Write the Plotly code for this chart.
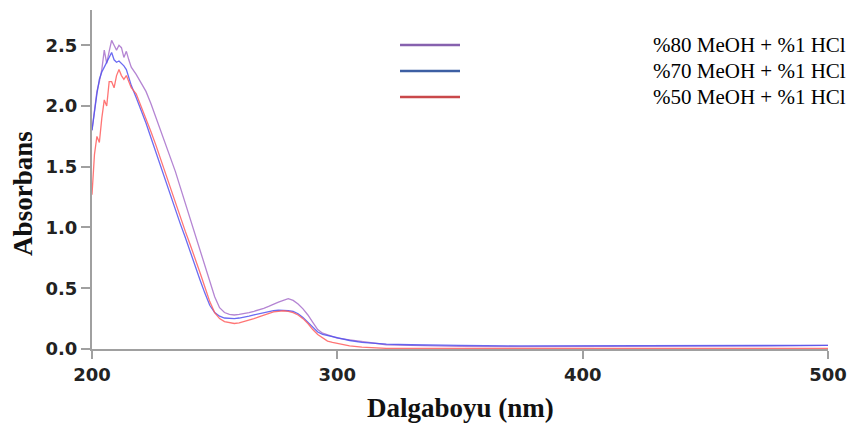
import plotly.graph_objects as go

wavelength = [200, 201, 202, 203, 204, 205, 206, 207, 208, 209, 210, 211, 212, 213, 214, 215, 216,
              218, 220, 222, 224, 226, 228, 230, 232, 234, 236, 238, 240, 242, 244, 246, 248, 250,
              252, 254, 256, 258, 260, 262, 264, 266, 268, 270, 272, 274, 276, 278, 280, 282, 284,
              286, 288, 290, 292, 294, 296, 298, 300, 305, 310, 315, 320, 330, 340, 350, 375, 400,
              425, 450, 475, 500]

meoh80 = [1.80, 1.98, 2.12, 2.20, 2.30, 2.46, 2.35, 2.45, 2.54, 2.50, 2.46, 2.50, 2.48, 2.40, 2.45, 2.38, 2.32,
          2.26, 2.19, 2.12, 2.02, 1.91, 1.80, 1.69, 1.58, 1.46, 1.33, 1.20, 1.07, 0.95, 0.82, 0.69, 0.55, 0.43,
          0.34, 0.30, 0.285, 0.28, 0.285, 0.29, 0.30, 0.31, 0.32, 0.335, 0.35, 0.37, 0.385, 0.40, 0.415, 0.40, 0.37,
          0.33, 0.28, 0.22, 0.16, 0.13, 0.115, 0.10, 0.09, 0.075, 0.06, 0.045, 0.035, 0.03, 0.025, 0.022, 0.02, 0.02,
          0.02, 0.02, 0.025, 0.03]

meoh70 = [1.80, 1.97, 2.10, 2.22, 2.28, 2.32, 2.36, 2.40, 2.44, 2.38, 2.36, 2.37, 2.35, 2.33, 2.30, 2.24, 2.17,
          2.07, 1.97, 1.86, 1.74, 1.62, 1.50, 1.39, 1.27, 1.15, 1.03, 0.92, 0.80, 0.69, 0.57, 0.46, 0.36, 0.30,
          0.27, 0.255, 0.25, 0.25, 0.255, 0.26, 0.27, 0.28, 0.29, 0.30, 0.31, 0.315, 0.32, 0.32, 0.315, 0.31, 0.29,
          0.26, 0.22, 0.18, 0.14, 0.12, 0.11, 0.10, 0.09, 0.07, 0.055, 0.045, 0.04, 0.035, 0.03, 0.03, 0.025, 0.025,
          0.025, 0.025, 0.03, 0.03]

meoh50 = [1.27, 1.60, 1.75, 1.70, 1.90, 2.05, 2.00, 2.20, 2.20, 2.15, 2.25, 2.30, 2.25, 2.22, 2.25, 2.20, 2.15,
          2.10, 2.00, 1.90, 1.79, 1.68, 1.56, 1.45, 1.33, 1.21, 1.09, 0.97, 0.86, 0.75, 0.63, 0.51, 0.39, 0.30,
          0.25, 0.225, 0.215, 0.21, 0.215, 0.225, 0.235, 0.25, 0.265, 0.28, 0.295, 0.305, 0.31, 0.315, 0.31, 0.30, 0.28,
          0.25, 0.21, 0.16, 0.12, 0.09, 0.065, 0.055, 0.045, 0.025, 0.015, 0.008, 0.005, 0.005, 0.005, 0.005, 0.005, 0.005,
          0.005, 0.005, 0.005, 0.005]

series_names = ["%80 MeOH + %1 HCl", "%70 MeOH + %1 HCl", "%50 MeOH + %1 HCl"]
series_values = [meoh80, meoh70, meoh50]
line_colors = ["#A870CC", "#5252F0", "#FF5E5E"]
legend_colors = ["#8661AE", "#3D5FA3", "#C9484A"]
x_ticks = [200, 300, 400, 500]
y_ticks = [0, 0.5, 1.0, 1.5, 2.0, 2.5]

fig = go.Figure()
for name, vals, col in zip(series_names, series_values, line_colors):
    fig.add_trace(go.Scatter(x=wavelength, y=vals, mode="lines", name=name,
                             line=dict(color=col, width=1.3), opacity=0.85))

# manual legend (line samples far left, texts right-aligned)
legend_y = [0.8968, 0.820, 0.7434]
for yy, name, col in zip(legend_y, series_names, legend_colors):
    fig.add_shape(type="line", xref="paper", yref="paper", x0=0.4185, x1=0.5, y0=yy, y1=yy,
                  line=dict(color=col, width=2.5))
    fig.add_annotation(xref="paper", yref="paper", x=1.027, y=yy, text=name, showarrow=False,
                       xanchor="right", yanchor="middle",
                       font=dict(family="Liberation Serif", size=21, color="#000"))

fig.add_annotation(xref="paper", yref="paper", x=0.5, y=-0.174, text="<b>Dalgaboyu (nm)</b>",
                   showarrow=False, xanchor="center", yanchor="middle",
                   font=dict(family="Liberation Serif", size=27, color="#111"))
fig.add_annotation(xref="paper", yref="paper", x=-0.094, y=0.46, text="<b>Absorbans</b>",
                   showarrow=False, xanchor="center", yanchor="middle", textangle=-90,
                   font=dict(family="Liberation Serif", size=27, color="#111"))

tick_font = dict(family="DejaVu Sans", size=18, color="#222", weight="bold")
axis_common = dict(showgrid=False, zeroline=False, showline=True, linecolor="#A0A0A0", linewidth=2,
                   ticks="outside", tickcolor="#A0A0A0", tickwidth=1.5, tickfont=tick_font,
                   automargin=False)
fig.update_xaxes(range=[200, 500], tickvals=x_ticks, ticklen=8, **axis_common)
fig.update_yaxes(range=[0, 2.79], tickvals=y_ticks, tickformat=".1f", ticklen=9, **axis_common)
fig.update_layout(width=851, height=426, margin=dict(l=92, r=23, t=10, b=77),
                  plot_bgcolor="white", paper_bgcolor="white", showlegend=False)
fig.write_html("out.html")
